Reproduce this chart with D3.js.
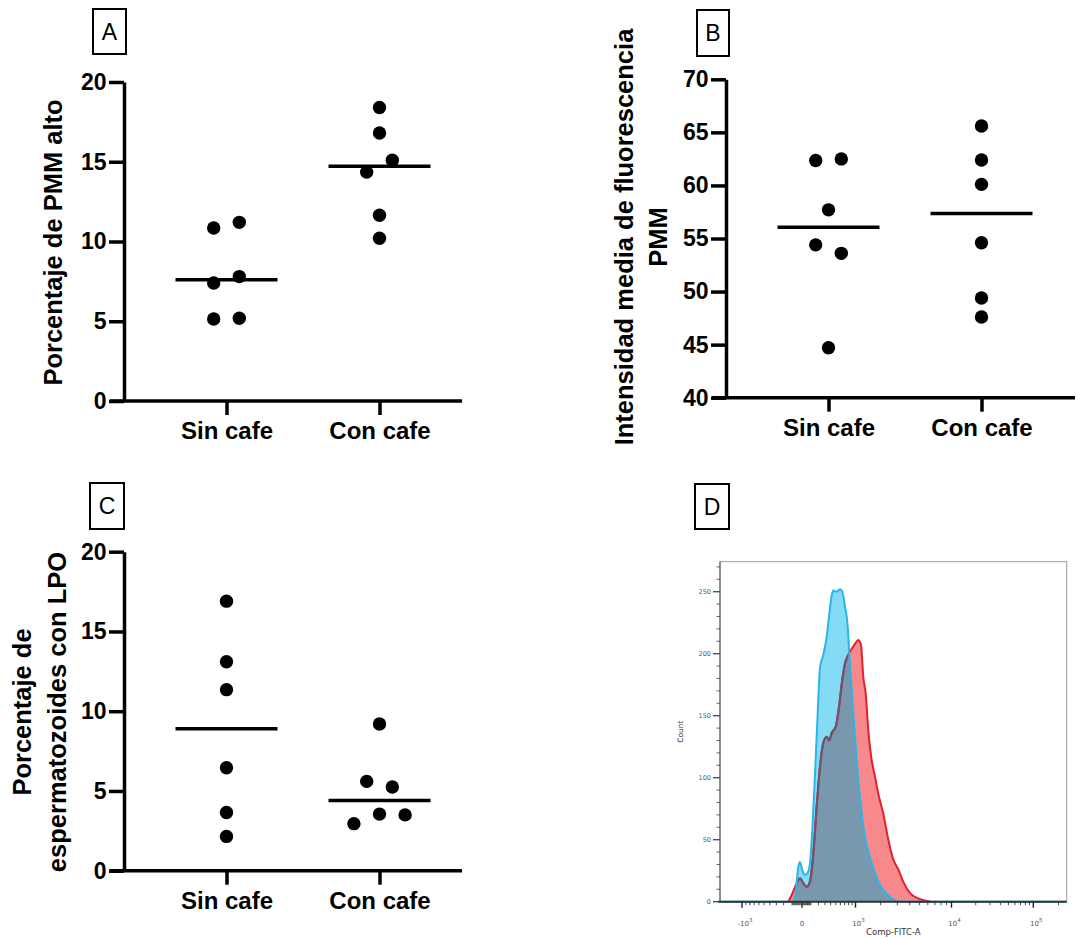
<!DOCTYPE html>
<html><head><meta charset="utf-8">
<script src="https://cdn.jsdelivr.net/npm/d3@7"></script>
<style>body{margin:0;background:#fff} svg{display:block}</style>
</head><body>
<svg id="c" width="1078" height="938"></svg>
<script>
// ---------------- DATA ----------------
const categories = ["Sin cafe", "Con cafe"];

// Panel A: Porcentaje de PMM alto
const pmmAltoSin = [10.85, 11.2, 7.4, 7.8, 5.14, 5.19];
const pmmAltoCon = [18.4, 16.8, 14.35, 15.1, 11.65, 10.2];
const ticksA = [0, 5, 10, 15, 20];

// Panel B: Intensidad media de fluorescencia PMM
const mfiSin = [62.35, 62.5, 57.7, 54.4, 53.6, 44.7];
const mfiCon = [65.6, 62.4, 60.1, 54.6, 49.4, 47.6];
const ticksB = [40, 45, 50, 55, 60, 65, 70];

// Panel C: Porcentaje de espermatozoides con LPO
const lpoSin = [16.9, 13.1, 11.35, 6.45, 3.65, 2.15];
const lpoCon = [9.2, 5.6, 5.25, 2.95, 3.55, 3.5];
const ticksC = [0, 5, 10, 15, 20];

// Panel D: histogram (Comp-FITC-A vs Count)
const blueFitc  = [-1750, -86, -61, -35, -19, 3, 32, 62, 89, 118, 153, 190, 224, 274, 331, 371, 420, 451, 520, 591, 644, 709, 778, 821, 868, 934, 1006, 1088, 1201, 1318, 1513, 1727, 1965, 2228, 2624, 3196, 260000];
const blueCount = [0, 0, 8, 28, 32, 25.5, 21.5, 23.4, 31, 58, 103, 152, 189, 199, 214, 230, 247, 251, 250, 252, 250, 238, 222, 200, 179, 152, 125, 98, 71, 52, 36, 23, 13.5, 8, 2.7, 0, 0];
const redFitc  = [-142, -104, -51, -19, 14, 51, 89, 131, 176, 224, 274, 331, 371, 420, 499, 569, 644, 709, 794, 888, 985, 1088, 1177, 1257, 1344, 1444, 1583, 1727, 1881, 2135, 2416, 2727, 3072, 3453, 4028, 4857, 6431];
const redCount = [0, 5.4, 14.8, 18.9, 14.8, 12.1, 16.2, 39, 76.6, 109, 128, 133, 130, 136, 141, 157, 179, 192, 199, 204, 208, 211, 207, 181, 168, 138, 114, 101, 87, 71, 50, 34, 26, 16, 7, 2.7, 0];
const histYTicks = [0, 50, 100, 150, 200, 250];
const histXMajor = [-1000, 0, 1000, 10000, 100000];

// ---------------- DRAWING ----------------
const svg = d3.select("#c");
const FONT = "'Liberation Sans', Arial, Helvetica, sans-serif";
const R = 6.7;

function panelLabel(x, y, w, h, letter) {
  svg.append("rect").attr("x", x).attr("y", y).attr("width", w).attr("height", h)
    .attr("fill", "none").attr("stroke", "#000").attr("stroke-width", 2);
  svg.append("text").attr("x", x + w / 2).attr("y", y + h / 2).attr("dy", "0.36em")
    .attr("text-anchor", "middle").attr("font-family", FONT).attr("font-size", 23)
    .text(letter);
}

function scatterPanel(o) {
  const g = svg.append("g");
  const y = d3.scaleLinear().domain(o.domain).range([o.yBottom, o.yTop]);
  const x = d3.scalePoint().domain(categories).range([o.axisX + 102.5, o.axisX + 255.5]);

  // y axis
  const ga = g.append("g").attr("transform", `translate(${o.axisX},0)`)
    .call(d3.axisLeft(y).tickValues(o.ticks).tickSize(15).tickPadding(2.5).tickSizeOuter(0));
  ga.attr("font-family", FONT).attr("font-size", 23).attr("font-weight", "bold");
  ga.selectAll("path,line").attr("stroke", "#000").attr("stroke-width", 3.5);
  ga.selectAll("text").attr("fill", "#000");

  // x axis line
  g.append("line").attr("x1", o.axisX - 14).attr("x2", o.xEnd)
    .attr("y1", o.yBottom).attr("y2", o.yBottom)
    .attr("stroke", "#000").attr("stroke-width", 3.5);
  const gx = g.append("g").attr("transform", `translate(0,${o.yBottom})`)
    .call(d3.axisBottom(x).tickSize(14).tickPadding(7));
  gx.select(".domain").remove();
  gx.attr("font-family", FONT).attr("font-size", 24).attr("font-weight", "bold");
  gx.selectAll("line").attr("stroke", "#000").attr("stroke-width", 3.5);
  gx.selectAll("text").attr("fill", "#000");

  // points with row-based symmetric spreading
  const groups = [o.sin, o.con];
  groups.forEach((vals, gi) => {
    const cx = x(categories[gi]);
    const idx = vals.map((v, i) => i).sort((a, b) => vals[b] - vals[a]);
    const rows = [];
    idx.forEach(i => {
      const last = rows[rows.length - 1];
      if (last && Math.abs(y(vals[i]) - y(vals[last[0]])) < 2 * R) last.push(i);
      else rows.push([i]);
    });
    const pts = [];
    rows.forEach(row => {
      row.sort((a, b) => a - b);
      row.forEach((i, k) => pts.push({ v: vals[i], dx: (k - (row.length - 1) / 2) * 25.6 }));
    });
    g.selectAll(null).data(pts).enter().append("circle")
      .attr("cx", d => cx + d.dx).attr("cy", d => y(d.v)).attr("r", R).attr("fill", "#000");
    const med = d3.median(vals);
    g.append("line").attr("x1", cx - 51).attr("x2", cx + 51)
      .attr("y1", y(med)).attr("y2", y(med)).attr("stroke", "#000").attr("stroke-width", 3.5);
  });

  // title
  const t = g.append("text").attr("font-family", FONT).attr("font-size", 25.5)
    .attr("font-weight", "bold").attr("text-anchor", "middle")
    .attr("transform", `translate(0,${o.titleY}) rotate(-90)`);
  o.title.forEach((line, i) => {
    t.append("tspan").attr("x", 0).attr("y", o.titleX[i]).text(line);
  });
}

// titleX given as baseline x positions; in rotated frame, y = baseline x
scatterPanel({ axisX: 124, yTop: 82, yBottom: 401, xEnd: 462, domain: [0, 20], ticks: ticksA,
  sin: pmmAltoSin, con: pmmAltoCon, title: ["Porcentaje de PMM alto"], titleX: [61.5], titleY: 242.5 });
scatterPanel({ axisX: 726, yTop: 79.3, yBottom: 397.7, xEnd: 1075, domain: [40, 70], ticks: ticksB,
  sin: mfiSin, con: mfiCon, title: ["Intensidad media de fluorescencia", "PMM"], titleX: [633, 666.5], titleY: 237 });
scatterPanel({ axisX: 124, yTop: 551.7, yBottom: 870.7, xEnd: 462, domain: [0, 20], ticks: ticksC,
  sin: lpoSin, con: lpoCon, title: ["Porcentaje de", "espermatozoides con LPO"], titleX: [31, 65.5], titleY: 712 });

panelLabel(93, 9, 33, 45, "A");
panelLabel(697, 10, 32, 46, "B");
panelLabel(90, 483, 34, 46, "C");
panelLabel(695, 484, 34, 45, "D");

// ---------------- Panel D histogram ----------------
(function () {
  const L = 720, Rt = 1066.7, T = 561.7, B = 901.7;
  const g = svg.append("g");
  const biex = v => Math.sign(v) * Math.log10(1 + Math.abs(v) / 500);
  const xAnch = [-1750, -1000, 0, 1000, 10000, 100000, 260000];
  const xLin = d3.scaleLinear().domain(xAnch.map(biex))
    .range([720, 742, 802, 855.5, 951.5, 1033.3, 1068]);
  const xs = v => xLin(biex(v));
  const y = d3.scaleLinear().domain([0, 274.2]).range([B, T]);

  const blue = blueFitc.map((v, i) => [v, blueCount[i]]);
  const red = redFitc.map((v, i) => [v, redCount[i]]);
  const area = d3.area().x(d => xs(d[0])).y0(y(0)).y1(d => y(d[1])).curve(d3.curveMonotoneX);
  const line = d3.line().x(d => xs(d[0])).y(d => y(d[1])).curve(d3.curveMonotoneX);

  const defs = svg.append("defs");
  defs.append("clipPath").attr("id", "blueClip").append("path").attr("d", area(blue));
  defs.append("clipPath").attr("id", "frameClip").append("rect")
    .attr("x", L).attr("y", T - 2).attr("width", Rt - L).attr("height", B - T + 4);

  const hg = g.append("g").attr("clip-path", "url(#frameClip)");
  hg.append("path").attr("d", area(blue)).attr("fill", "#84dbf6");
  hg.append("path").attr("d", area(red)).attr("fill", "#f7898d");
  hg.append("path").attr("d", area(red)).attr("fill", "#7a98ad").attr("clip-path", "url(#blueClip)");
  hg.append("path").attr("d", line(red)).attr("fill", "none").attr("stroke", "#e3202b").attr("stroke-width", 2);
  hg.append("path").attr("d", line(red)).attr("fill", "none").attr("stroke", "#6e5470")
    .attr("stroke-width", 2.2).attr("clip-path", "url(#blueClip)");

  // frame
  g.append("rect").attr("x", L).attr("y", T).attr("width", Rt - L).attr("height", B - T)
    .attr("fill", "none").attr("stroke", "#9a9a9a").attr("stroke-width", 1);
  g.append("line").attr("x1", L).attr("x2", L).attr("y1", T).attr("y2", B)
    .attr("stroke", "#666").attr("stroke-width", 1.2);
  g.append("line").attr("x1", L - 2).attr("x2", Rt).attr("y1", B).attr("y2", B)
    .attr("stroke", "#333").attr("stroke-width", 2);
  hg.append("path").attr("d", line(blue)).attr("fill", "none").attr("stroke", "#2ab5e8").attr("stroke-width", 2);

  // y ticks
  const yMinor = d3.range(0, 275, 10);
  g.selectAll(null).data(yMinor).enter().append("line")
    .attr("x1", d => histYTicks.includes(d) ? L - 7 : L - 3.5).attr("x2", L)
    .attr("y1", d => y(d)).attr("y2", d => y(d))
    .attr("stroke", "#444").attr("stroke-width", d => histYTicks.includes(d) ? 1.3 : 0.8);
  g.selectAll(null).data(histYTicks).enter().append("text")
    .attr("x", L - 9).attr("y", d => y(d)).attr("dy", "0.35em").attr("text-anchor", "end")
    .attr("font-family", "'DejaVu Sans', sans-serif").attr("font-size", 6.5).attr("fill", "#555")
    .text(d => d);

  // x ticks
  const xMinor = [];
  for (let k = 1; k <= 9; k++) { xMinor.push(-100 * k, -10 * k, 10 * k, 100 * k, 1000 * k, 10000 * k); }
  xMinor.push(200000);
  const xm = xMinor.filter(v => !histXMajor.includes(v) && xs(v) >= L && xs(v) <= Rt);
  g.selectAll(null).data(xm).enter().append("line")
    .attr("x1", d => xs(d)).attr("x2", d => xs(d)).attr("y1", B).attr("y2", B + 3.5)
    .attr("stroke", "#333").attr("stroke-width", 0.9);
  g.selectAll(null).data(histXMajor).enter().append("line")
    .attr("x1", d => xs(d)).attr("x2", d => xs(d)).attr("y1", B).attr("y2", B + 6)
    .attr("stroke", "#222").attr("stroke-width", 1.4);
  const xl = g.selectAll(null).data(histXMajor).enter().append("text")
    .attr("x", d => xs(d) + (d === 0 ? 0 : 3)).attr("y", B + 24).attr("text-anchor", "middle")
    .attr("font-family", "'DejaVu Sans', sans-serif").attr("font-size", 7).attr("fill", "#555");
  xl.each(function (d) {
    const t = d3.select(this);
    if (d === 0) { t.text("0"); return; }
    const e = Math.round(Math.log10(Math.abs(d)));
    t.append("tspan").text((d < 0 ? "-" : "") + "10");
    t.append("tspan").attr("dy", -3.5).attr("font-size", 5.5).text(e);
  });

  g.append("text").attr("x", (L + Rt) / 2).attr("y", B + 33.5).attr("text-anchor", "middle")
    .attr("font-family", "'DejaVu Sans', sans-serif").attr("font-size", 8.5).attr("fill", "#333")
    .text("Comp-FITC-A");
  g.append("text").attr("transform", `translate(683,${(T + B) / 2}) rotate(-90)`)
    .attr("text-anchor", "middle").attr("font-family", "'DejaVu Sans', sans-serif")
    .attr("font-size", 7.5).attr("fill", "#333").text("Count");
})();
</script>
</body></html>
